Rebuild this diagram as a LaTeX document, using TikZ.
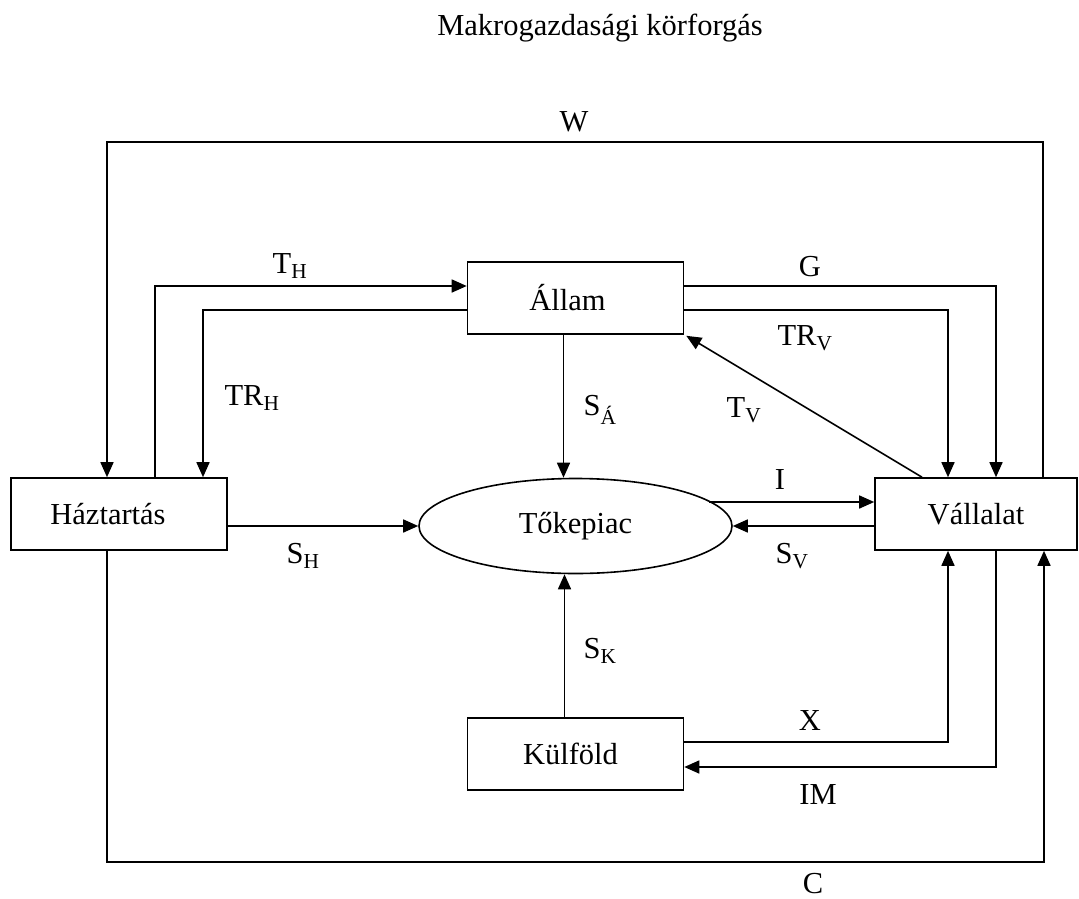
\documentclass[tikz,border=0pt]{standalone}
\usepackage{fontspec}
\setmainfont{Liberation Serif}
\usetikzlibrary{arrows.meta,shapes.geometric}
\begin{document}
\begin{tikzpicture}[x=1pt,y=-1pt,
  every node/.style={font=\fontsize{30.5}{36}\selectfont},
  boxnode/.style={draw,line width=1.6pt,rectangle,minimum width=216pt,minimum height=72pt,inner sep=0pt},
  conn/.style={line width=1.6pt},
  arr/.style={conn,-{Triangle[length=15pt,width=13pt]}},
  lbl/.style={inner sep=0pt}]
\useasboundingbox (0,0) rectangle (1079,899);
\node[lbl] (title) at (600,28) {Makrogazdasági körforgás};
\node[boxnode] (haz) at (119,514) {Háztartás\hspace*{22pt}};
\node[boxnode] (allam) at (575.5,298) {Állam\hspace*{16pt}};
\node[boxnode,minimum width=202pt] (vall) at (976,514) {Vállalat};
\node[boxnode] (kulf) at (575.5,754) {Külföld\hspace*{10pt}};
\node[draw,line width=1.6pt,ellipse,minimum width=313pt,minimum height=95pt,inner sep=0pt] (tok) at (575.5,526) {Tőkepiac};
% W
\draw[arr] ([xshift=67pt]vall.north) |- (107,142) -- ([xshift=-12pt]haz.north);
\node[lbl] (lW) at (574,122) {W};
% T_H
\draw[arr] ([xshift=36pt]haz.north) |- ([yshift=12pt]allam.west);
\node[lbl] (lTH) at (290,266) {T\textsubscript{H}};
% TR_H
\draw[arr] ([yshift=-12pt]allam.west) -| ([xshift=84pt]haz.north);
\node[lbl] (lTRH) at (252,398) {TR\textsubscript{H}};
% G
\draw[arr] ([yshift=12pt]allam.east) -| ([xshift=20pt]vall.north);
\node[lbl] (lG) at (810,267) {G};
% TR_V
\draw[arr] ([yshift=-12pt]allam.east) -| ([xshift=-28pt]vall.north);
\node[lbl] (lTRV) at (805,338) {TR\textsubscript{V}};
% T_V
\draw[arr] ([xshift=-54pt]vall.north) -- ([xshift=2pt,yshift=-1pt]allam.south east);
\node[lbl] (lTV) at (744,410) {T\textsubscript{V}};
% S_A
\draw[arr] ([xshift=-12pt]allam.south) -- ([xshift=-12pt]tok.north);
\node[lbl] (lSA) at (600,410) {S\textsubscript{Á}};
% S_H
\draw[arr] ([yshift=-12pt]haz.east) -- (tok.west);
\node[lbl] (lSH) at (303,556) {S\textsubscript{H}};
% I
\draw[arr] ([xshift=133pt,yshift=24pt]tok.center) -- ([yshift=12pt]vall.west);
\node[lbl] (lI) at (780,480) {I};
% S_V
\draw[arr] ([yshift=-12pt]vall.west) -- (tok.east);
\node[lbl] (lSV) at (792,556) {S\textsubscript{V}};
% S_K
\draw[arr] ([xshift=-11pt]kulf.north) -- ([xshift=-11pt]tok.south);
\node[lbl] (lSK) at (600,651) {S\textsubscript{K}};
% X
\draw[arr] ([yshift=12pt]kulf.east) -| ([xshift=-28pt]vall.south);
\node[lbl] (lX) at (810,721) {X};
% IM
\draw[arr] ([xshift=20pt]vall.south) |- ([yshift=-13pt]kulf.east);
\node[lbl] (lIM) at (818,795) {IM};
% C
\draw[arr] ([xshift=-12pt]haz.south) |- (1044,862) -- ([xshift=68pt]vall.south);
\node[lbl] (lC) at (813,884) {C};
\end{tikzpicture}
\end{document}
